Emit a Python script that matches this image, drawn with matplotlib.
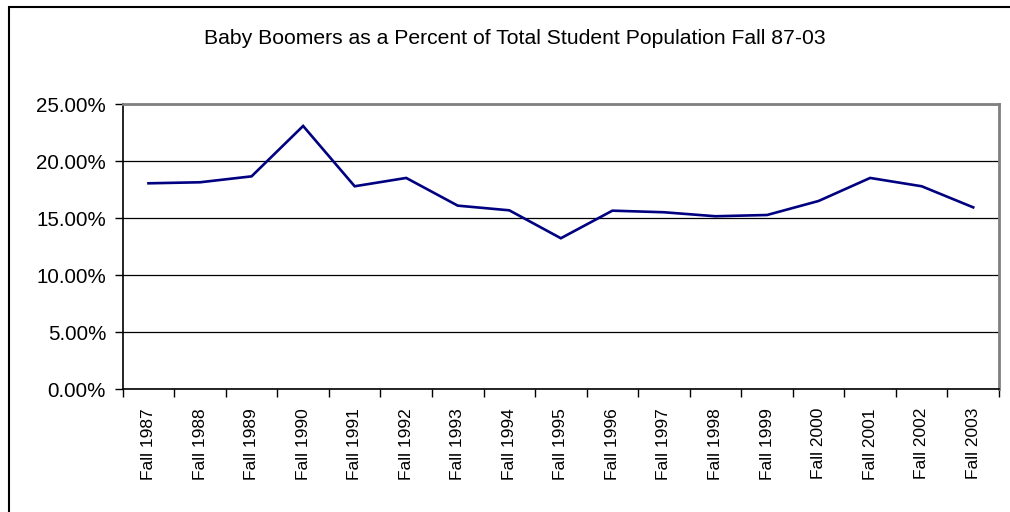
import matplotlib
matplotlib.use("Agg")
import matplotlib.pyplot as plt
from matplotlib.patches import Rectangle
from matplotlib.ticker import FuncFormatter, FixedLocator, NullFormatter

plt.rcParams['font.family'] = ['Liberation Sans', 'DejaVu Sans']

# data (percent)
years = ["Fall 1987", "Fall 1988", "Fall 1989", "Fall 1990", "Fall 1991",
         "Fall 1992", "Fall 1993", "Fall 1994", "Fall 1995", "Fall 1996",
         "Fall 1997", "Fall 1998", "Fall 1999", "Fall 2000", "Fall 2001",
         "Fall 2002", "Fall 2003"]
pct = [18.07, 18.16, 18.68, 23.10, 17.81, 18.54, 16.11, 15.70, 13.25,
       15.67, 15.53, 15.18, 15.29, 16.52, 18.54, 17.81, 15.96]
y_ticks = [0, 5, 10, 15, 20, 25]

W, H = 1010, 512
fig = plt.figure(figsize=(W / 100, H / 100), dpi=100)

# outer chart border (runs off the right and bottom of the picture)
fig.patches.append(Rectangle((9 / W, -0.1), 1.2, 1 - 7 / H + 0.1,
                             transform=fig.transFigure, fill=False,
                             edgecolor="black", linewidth=1.5))

left, right, top, bottom = 122.7, 999, 104.3, 389.3
ax = fig.add_axes([left / W, 1 - bottom / H, (right - left) / W, (bottom - top) / H])

x = list(range(len(years)))
ax.plot(x, pct, color="#000080", linewidth=1.9, solid_joinstyle="miter")

ax.set_xlim(-0.5, len(years) - 0.5)
ax.set_ylim(0, 25)

ax.set_yticks(y_ticks)
ax.yaxis.set_major_formatter(FuncFormatter(lambda v, p: f"{v:.2f}%"))
ax.yaxis.grid(True, color="black", linewidth=0.9)
ax.set_axisbelow(True)

# category labels centred, tick marks between categories
ax.set_xticks(x)
ax.set_xticklabels(years, rotation=90, fontsize=12.5)
ax.tick_params(axis="x", which="major", length=0, pad=13.5)
ax.xaxis.set_minor_locator(FixedLocator([i - 0.5 for i in range(len(years) + 1)]))
ax.xaxis.set_minor_formatter(NullFormatter())
ax.tick_params(axis="x", which="minor", length=6, width=1, color="black", direction="out")
ax.tick_params(axis="y", length=6, width=1, labelsize=14.8, pad=6)

ax.spines["left"].set_color("black")
ax.spines["bottom"].set_color("black")
ax.spines["top"].set_color("#808080")
ax.spines["right"].set_color("#808080")
for s in ax.spines.values():
    s.set_linewidth(1.2)
ax.spines["right"].set_linewidth(2)
ax.spines["top"].set_linewidth(2)

fig.text(515 / W, 1 - 38 / H, "Baby Boomers as a Percent of Total Student Population Fall 87-03",
         ha="center", va="center", fontsize=15.2)

fig.savefig("out.png", dpi=100)
